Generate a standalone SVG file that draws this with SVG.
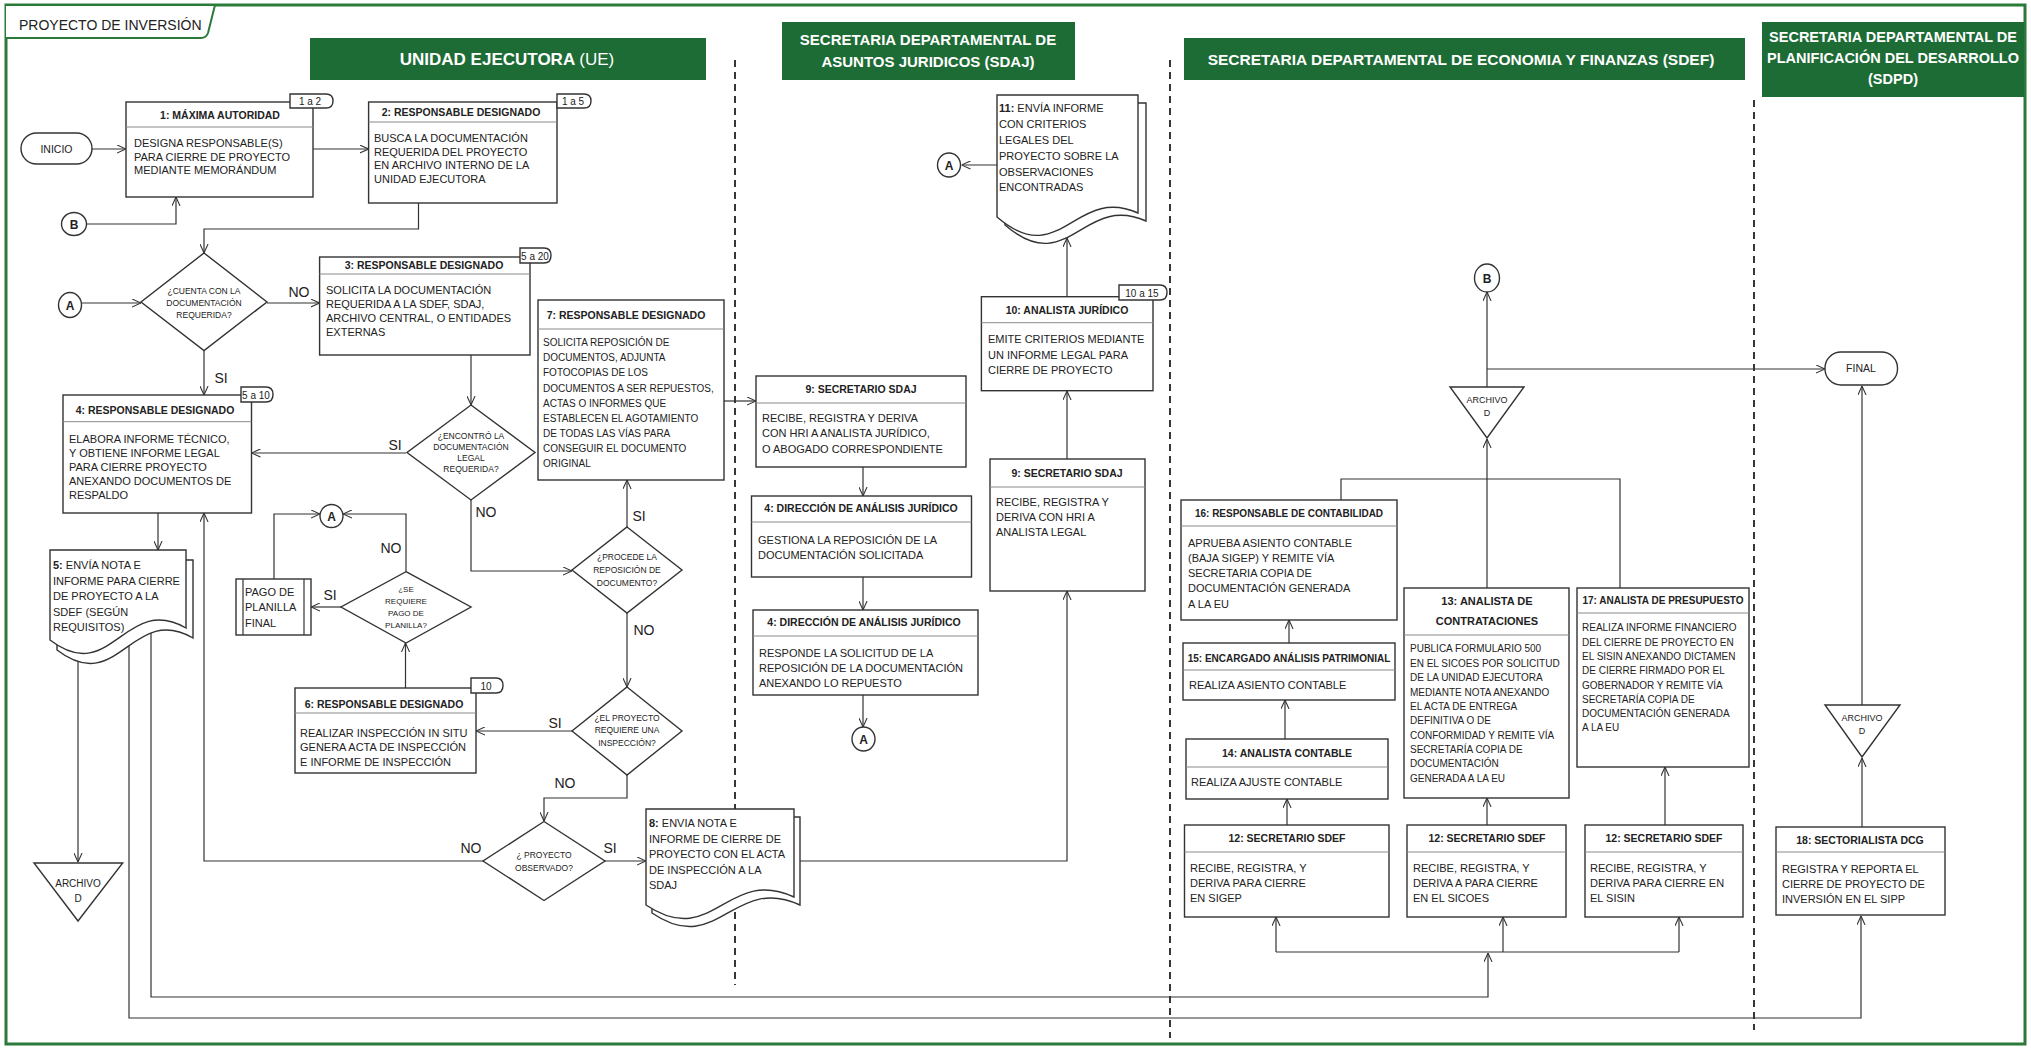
<svg xmlns="http://www.w3.org/2000/svg" width="2031" height="1048" viewBox="0 0 2031 1048">
<defs>
<marker id="arr" viewBox="0 0 10 10" refX="10" refY="5" markerWidth="9" markerHeight="9" orient="auto" markerUnits="userSpaceOnUse">
<path d="M0,0.5 L10,5 L0,9.5" fill="none" stroke="#333" stroke-width="1.2"/>
</marker>
<style>
.box{fill:#fff;stroke:#333;stroke-width:1.4}
.dv{stroke:#8a8a8a;stroke-width:1}
text{font-family:"Liberation Sans",Arial,sans-serif;fill:#222}
.t{font-size:11px}
.t10{font-size:10px}
.tt{font-size:10.5px;font-weight:bold;text-anchor:middle}
.tt10{font-size:10px;font-weight:bold;text-anchor:middle}
.ds{font-size:8.5px;text-anchor:middle}
.ds8{font-size:8px;text-anchor:middle}
.lbl{font-size:14px;text-anchor:middle}
.tag{font-size:10px;text-anchor:middle}
.arc{font-size:9px;text-anchor:middle}
.term{font-size:10.5px;text-anchor:middle}
.conn{fill:none;stroke:#333;stroke-width:1.2;marker-end:url(#arr)}
.ln{fill:none;stroke:#333;stroke-width:1.2}
.hdr{fill:#1d6b35}
.ht{fill:#fff;font-weight:bold;text-anchor:middle}
.dash{stroke:#222;stroke-width:1.8;stroke-dasharray:7 5}
.cc{font-size:12px;font-weight:bold;text-anchor:middle}
</style>
</defs>
<rect x="0" y="0" width="2031" height="1048" fill="#fff"/>
<rect x="6" y="5" width="2019" height="1039" fill="none" stroke="#2b7a3a" stroke-width="3"/>
<g id="tab">
<path d="M6,5 H215 L208,33 Q206,38 201,38 H6" fill="#fff" stroke="#2b7a3a" stroke-width="2"/>
<text x="19" y="30" style="font-size:14px">PROYECTO DE INVERSIÓN</text>
</g>
<g id="lanes">
<rect class="hdr" x="310" y="38" width="396" height="42"/>
<text class="ht" x="507" y="65" style="font-size:17px">UNIDAD EJECUTORA <tspan font-weight="normal">(UE)</tspan></text>
<rect class="hdr" x="782" y="22" width="293" height="58"/>
<text class="ht" x="928" y="45" style="font-size:15px">SECRETARIA DEPARTAMENTAL DE</text>
<text class="ht" x="928" y="67" style="font-size:15px">ASUNTOS JURIDICOS (SDAJ)</text>
<rect class="hdr" x="1184" y="38" width="561" height="42"/>
<text class="ht" x="1461" y="65" style="font-size:15.5px">SECRETARIA DEPARTAMENTAL DE ECONOMIA Y FINANZAS (SDEF)</text>
<rect class="hdr" x="1762" y="22" width="262" height="75"/>
<text class="ht" x="1893" y="42" style="font-size:14.5px">SECRETARIA DEPARTAMENTAL DE</text>
<text class="ht" x="1893" y="63" style="font-size:14.5px">PLANIFICACIÓN DEL DESARROLLO</text>
<text class="ht" x="1893" y="84" style="font-size:14.5px">(SDPD)</text>
<line class="dash" x1="735" y1="60" x2="735" y2="985"/>
<line class="dash" x1="1170" y1="60" x2="1170" y2="1038"/>
<line class="dash" x1="1754" y1="100" x2="1754" y2="1030"/>
</g>
<g id="connectors">
<path class="conn" d="M92,149 H126"/>
<path class="conn" d="M313,149 H368.6"/>
<path class="conn" d="M87,224 H176 V197"/>
<path class="conn" d="M418.5,203 V229 H204 V253"/>
<path class="conn" d="M82,303 H141"/>
<path class="conn" d="M267,303 H319.6"/>
<path class="conn" d="M204,350.5 V395"/>
<path class="conn" d="M471,355 V405"/>
<path class="conn" d="M406,453 H251.5"/>
<path class="conn" d="M471,500 V571 H572"/>
<path class="conn" d="M627,527 V480"/>
<path class="conn" d="M627,613 V687"/>
<path class="conn" d="M572,731 H476"/>
<path class="conn" d="M405.5,688 V643"/>
<path class="conn" d="M342,607 H311"/>
<path class="conn" d="M274,579 V514 H320"/>
<path class="conn" d="M406,571.7 V514 H343"/>
<path class="conn" d="M158,513 V550"/>
<path class="conn" d="M78,656 V862"/>
<path class="conn" d="M129,643 V1018 H1861 V916"/>
<path class="conn" d="M151,632 V997 H1488 V953"/>
<path class="conn" d="M627,775 V798 H544 V821"/>
<path class="conn" d="M483,861 H204 V513"/>
<path class="conn" d="M605,861 H646"/>
<path class="conn" d="M724,401 H756"/>
<path class="conn" d="M863,467 V496"/>
<path class="conn" d="M863,577 V610"/>
<path class="conn" d="M863,695 V727"/>
<path class="conn" d="M800,861 H1067 V591"/>
<path class="conn" d="M1067,459 V391"/>
<path class="conn" d="M1067,297 V238"/>
<path class="conn" d="M997,165 H961.5"/>
<path class="ln" d="M1276,952 H1679"/>
<path class="conn" d="M1276,952 V917"/>
<path class="conn" d="M1503,952 V917"/>
<path class="conn" d="M1679,952 V917"/>
<path class="conn" d="M1287,825 V799"/>
<path class="conn" d="M1285,739 V700"/>
<path class="conn" d="M1289,643 V620"/>
<path class="conn" d="M1487,825 V798"/>
<path class="conn" d="M1665,825 V767"/>
<path class="ln" d="M1341,500 V479 H1620 V588"/>
<path class="conn" d="M1487,588 V439"/>
<path class="conn" d="M1487,387 V292"/>
<path class="conn" d="M1487,369 H1825"/>
<path class="conn" d="M1862,827 V758"/>
<path class="conn" d="M1862,705 V386"/>
</g>
<g id="labels">
<text class="lbl" x="299" y="297">NO</text>
<text class="lbl" x="221" y="383">SI</text>
<text class="lbl" x="395" y="450">SI</text>
<text class="lbl" x="486" y="517">NO</text>
<text class="lbl" x="639" y="521">SI</text>
<text class="lbl" x="644" y="635">NO</text>
<text class="lbl" x="555" y="728">SI</text>
<text class="lbl" x="565" y="788">NO</text>
<text class="lbl" x="391" y="553">NO</text>
<text class="lbl" x="330" y="600">SI</text>
<text class="lbl" x="471" y="853">NO</text>
<text class="lbl" x="610" y="853">SI</text>
</g>
<g id="inicio">
<rect class="box" x="21" y="133" width="71" height="31" rx="15.5"/>
<text class="term" x="56.5" y="152.5">INICIO</text>
</g>
<g id="n1">
<rect class="box" x="126" y="102" width="187" height="95"/>
<line class="dv" x1="126" y1="127" x2="313" y2="127"/>
<text class="tt" x="220" y="119">1: MÁXIMA AUTORIDAD</text>
<text class="t" x="134" y="147">DESIGNA RESPONSABLE(S)</text>
<text class="t" x="134" y="160.5">PARA CIERRE DE PROYECTO</text>
<text class="t" x="134" y="174">MEDIANTE MEMORÁNDUM</text>
<path class="box" d="M290,94 H326 Q333,94 333,101 Q333,108 326,108 H290 Z"/>
<text class="tag" x="310" y="105">1 a 2</text>
</g>
<g id="n2">
<rect class="box" x="368.6" y="102" width="188.4" height="101"/>
<line class="dv" x1="368.6" y1="122" x2="557" y2="122"/>
<text class="tt" x="461" y="116">2: RESPONSABLE DESIGNADO</text>
<text class="t" x="374" y="142">BUSCA LA DOCUMENTACIÓN</text>
<text class="t" x="374" y="155.5">REQUERIDA DEL PROYECTO</text>
<text class="t" x="374" y="169">EN ARCHIVO INTERNO DE LA</text>
<text class="t" x="374" y="182.5">UNIDAD EJECUTORA</text>
<path class="box" d="M557,94 H584 Q591,94 591,101 Q591,108 584,108 H557 Z"/>
<text class="tag" x="573" y="105">1 a 5</text>
</g>
<g id="connB1">
<ellipse class="box" cx="74" cy="224" rx="12.5" ry="11.5"/>
<text class="cc" x="74" y="228.5">B</text>
</g>
<g id="connA1">
<ellipse class="box" cx="70" cy="305" rx="11.5" ry="12.5"/>
<text class="cc" x="70" y="309.5">A</text>
</g>
<g id="d1">
<path class="box" d="M204,253 L267,302 L204,350.5 L141,302 Z"/>
<text class="ds" x="204" y="294">¿CUENTA CON LA</text>
<text class="ds" x="204" y="306">DOCUMENTACIÓN</text>
<text class="ds" x="204" y="318">REQUERIDA?</text>
</g>
<g id="n3">
<rect class="box" x="319.6" y="257" width="210.4" height="98"/>
<line class="dv" x1="319.6" y1="274" x2="530" y2="274"/>
<text class="tt" x="424" y="269">3: RESPONSABLE DESIGNADO</text>
<text class="t" x="326" y="294">SOLICITA LA DOCUMENTACIÓN</text>
<text class="t" x="326" y="308">REQUERIDA A LA SDEF, SDAJ,</text>
<text class="t" x="326" y="322">ARCHIVO CENTRAL, O ENTIDADES</text>
<text class="t" x="326" y="336">EXTERNAS</text>
<path class="box" d="M520,248 H544 Q551,248 551,255.5 Q551,263 544,263 H520 Z"/>
<text class="tag" x="535" y="259.5">5 a 20</text>
</g>
<g id="n4">
<rect class="box" x="63" y="395" width="188.5" height="118"/>
<line class="dv" x1="63" y1="421.7" x2="251.5" y2="421.7"/>
<text class="tt" x="155" y="414">4: RESPONSABLE DESIGNADO</text>
<text class="t" x="69" y="443">ELABORA INFORME TÉCNICO,</text>
<text class="t" x="69" y="457">Y OBTIENE INFORME LEGAL</text>
<text class="t" x="69" y="471">PARA CIERRE PROYECTO</text>
<text class="t" x="69" y="485">ANEXANDO DOCUMENTOS DE</text>
<text class="t" x="69" y="499">RESPALDO</text>
<path class="box" d="M241,387 H266 Q273,387 273,394.5 Q273,402 266,402 H241 Z"/>
<text class="tag" x="256" y="398.5">5 a 10</text>
</g>
<g id="d2">
<path class="box" d="M471,405 L535,452.5 L471,500 L407,452.5 Z"/>
<text class="ds" x="471" y="439">¿ENCONTRÓ LA</text>
<text class="ds" x="471" y="450">DOCUMENTACIÓN</text>
<text class="ds" x="471" y="461">LEGAL</text>
<text class="ds" x="471" y="472">REQUERIDA?</text>
</g>
<g id="n7">
<rect class="box" x="538" y="300" width="186" height="180"/>
<line class="dv" x1="538" y1="329" x2="724" y2="329"/>
<text class="tt" x="626" y="319">7: RESPONSABLE DESIGNADO</text>
<text class="t10" x="543" y="346">SOLICITA REPOSICIÓN DE</text>
<text class="t10" x="543" y="361">DOCUMENTOS, ADJUNTA</text>
<text class="t10" x="543" y="376">FOTOCOPIAS DE LOS</text>
<text class="t10" x="543" y="391.5">DOCUMENTOS A SER REPUESTOS,</text>
<text class="t10" x="543" y="406.5">ACTAS O INFORMES QUE</text>
<text class="t10" x="543" y="421.5">ESTABLECEN EL AGOTAMIENTO</text>
<text class="t10" x="543" y="436.5">DE TODAS LAS VÍAS PARA</text>
<text class="t10" x="543" y="451.5">CONSEGUIR EL DOCUMENTO</text>
<text class="t10" x="543" y="466.5">ORIGINAL</text>
</g>
<g id="d3">
<path class="box" d="M627,527 L682,570 L627,613 L572,570 Z"/>
<text class="ds" x="627" y="560">¿PROCEDE LA</text>
<text class="ds" x="627" y="573">REPOSICIÓN DE</text>
<text class="ds" x="627" y="586">DOCUMENTO?</text>
</g>
<g id="connA2">
<ellipse class="box" cx="331.5" cy="516" rx="11.5" ry="11.5"/>
<text class="cc" x="331.5" y="520.5">A</text>
</g>
<g id="d4">
<path class="box" d="M406,571.7 L471,607 L406,643 L341,607 Z"/>
<text class="ds8" x="406" y="592">¿SE</text>
<text class="ds8" x="406" y="604">REQUIERE</text>
<text class="ds8" x="406" y="616">PAGO DE</text>
<text class="ds8" x="406" y="628">PLANILLA?</text>
</g>
<g id="pago">
<rect class="box" x="236" y="579" width="75" height="56"/>
<line class="ln" x1="243" y1="579" x2="243" y2="635"/>
<line class="ln" x1="304" y1="579" x2="304" y2="635"/>
<text class="t" x="245" y="596">PAGO DE</text>
<text class="t" x="245" y="611">PLANILLA</text>
<text class="t" x="245" y="627">FINAL</text>
</g>
<g id="n5">
<path class="box" d="M57,560 H193 V638 C132,603 118,697 57,650 Z"/>
<path class="box" d="M50,550 H186 V628 C125,593 111,687 50,640 Z"/>
<text class="t" x="53" y="569"><tspan font-weight="bold">5:</tspan> ENVÍA NOTA E</text>
<text class="t" x="53" y="584.5">INFORME PARA CIERRE</text>
<text class="t" x="53" y="600">DE PROYECTO A LA</text>
<text class="t" x="53" y="615.5">SDEF (SEGÚN</text>
<text class="t" x="53" y="631">REQUISITOS)</text>
</g>
<g id="n6">
<rect class="box" x="295" y="688" width="181" height="85"/>
<line class="dv" x1="295" y1="713" x2="476" y2="713"/>
<text class="tt" x="384" y="708">6: RESPONSABLE DESIGNADO</text>
<text class="t" x="300" y="737">REALIZAR INSPECCIÓN IN SITU</text>
<text class="t" x="300" y="751">GENERA ACTA DE INSPECCIÓN</text>
<text class="t" x="300" y="766">E INFORME DE INSPECCIÓN</text>
<path class="box" d="M471,678 H496 Q503,678 503,685.5 Q503,693 496,693 H471 Z"/>
<text class="tag" x="486" y="689.5">10</text>
</g>
<g id="d6">
<path class="box" d="M627,687 L682,731 L627,775 L572,731 Z"/>
<text class="ds" x="627" y="721">¿EL  PROYECTO</text>
<text class="ds" x="627" y="733">REQUIERE UNA</text>
<text class="ds" x="627" y="746">INSPECCIÓN?</text>
</g>
<g id="archivo1">
<path class="box" d="M34,863 H122.7 L78,921 Z"/>
<text class="arc" x="78" y="887" style="font-size:10px">ARCHIVO</text>
<text class="arc" x="78" y="902" style="font-size:10px">D</text>
</g>
<g id="d5">
<path class="box" d="M544,821.5 L605,861 L544,900.5 L483,861 Z"/>
<text class="ds" x="544" y="858">¿ PROYECTO</text>
<text class="ds" x="544" y="871">OBSERVADO?</text>
</g>
<g id="n8">
<path class="box" d="M652,817 H800 V905 C733,874 718,958 652,913 Z"/>
<path class="box" d="M646,809 H794 V897 C727,866 713,950 646,905 Z"/>
<text class="t" x="649" y="827"><tspan font-weight="bold">8:</tspan> ENVIA NOTA E</text>
<text class="t" x="649" y="843">INFORME DE CIERRE DE</text>
<text class="t" x="649" y="858">PROYECTO CON EL ACTA</text>
<text class="t" x="649" y="874">DE INSPECCIÓN A LA</text>
<text class="t" x="649" y="889">SDAJ</text>
</g>
<g id="n9a">
<rect class="box" x="756" y="376" width="210" height="91"/>
<line class="dv" x1="756" y1="403" x2="966" y2="403"/>
<text class="tt" x="861" y="393">9: SECRETARIO SDAJ</text>
<text class="t" x="762" y="422">RECIBE, REGISTRA Y DERIVA</text>
<text class="t" x="762" y="437">CON HRI A ANALISTA JURÍDICO,</text>
<text class="t" x="762" y="453">O ABOGADO CORRESPONDIENTE</text>
</g>
<g id="dir1">
<rect class="box" x="751.5" y="496" width="220" height="81"/>
<line class="dv" x1="751.5" y1="522" x2="971.5" y2="522"/>
<text class="tt" x="861" y="512">4: DIRECCIÓN DE ANÁLISIS JURÍDICO</text>
<text class="t" x="758" y="544">GESTIONA LA REPOSICIÓN DE LA</text>
<text class="t" x="758" y="559">DOCUMENTACIÓN SOLICITADA</text>
</g>
<g id="dir2">
<rect class="box" x="753" y="610" width="225" height="85"/>
<line class="dv" x1="753" y1="636" x2="978" y2="636"/>
<text class="tt" x="864" y="626">4: DIRECCIÓN DE ANÁLISIS JURÍDICO</text>
<text class="t" x="759" y="657">RESPONDE LA SOLICITUD DE LA</text>
<text class="t" x="759" y="672">REPOSICIÓN DE LA DOCUMENTACIÓN</text>
<text class="t" x="759" y="687">ANEXANDO LO REPUESTO</text>
</g>
<g id="connA3">
<ellipse class="box" cx="863.5" cy="739" rx="11.5" ry="12"/>
<text class="cc" x="863.5" y="743.5">A</text>
</g>
<g id="n11">
<path class="box" d="M1005,103 H1146 V221 C1082.5,193 1068.5,279.5 1005,225 Z"/>
<path class="box" d="M997,95 H1138 V213 C1074.5,185 1060.5,271.5 997,217 Z"/>
<text class="t" x="999" y="112"><tspan font-weight="bold">11:</tspan> ENVÍA INFORME</text>
<text class="t" x="999" y="128">CON CRITERIOS</text>
<text class="t" x="999" y="144">LEGALES DEL</text>
<text class="t" x="999" y="160">PROYECTO SOBRE LA</text>
<text class="t" x="999" y="176">OBSERVACIONES</text>
<text class="t" x="999" y="191">ENCONTRADAS</text>
</g>
<g id="connA4">
<ellipse class="box" cx="949" cy="165" rx="11.5" ry="12"/>
<text class="cc" x="949" y="169.5">A</text>
</g>
<g id="n10">
<rect class="box" x="981.4" y="296.7" width="171.6" height="94"/>
<line class="dv" x1="981.4" y1="322.7" x2="1153" y2="322.7"/>
<text class="tt" x="1067" y="314">10: ANALISTA JURÍDICO</text>
<text class="t" x="988" y="343">EMITE CRITERIOS MEDIANTE</text>
<text class="t" x="988" y="359">UN INFORME LEGAL PARA</text>
<text class="t" x="988" y="374">CIERRE DE PROYECTO</text>
<path class="box" d="M1119,285 H1160 Q1167,285 1167,292.5 Q1167,300 1160,300 H1119 Z"/>
<text class="tag" x="1142" y="296.5">10 a 15</text>
</g>
<g id="n9b">
<rect class="box" x="990" y="459" width="155" height="132"/>
<line class="dv" x1="990" y1="487" x2="1145" y2="487"/>
<text class="tt" x="1067" y="477">9: SECRETARIO SDAJ</text>
<text class="t" x="996" y="506">RECIBE, REGISTRA Y</text>
<text class="t" x="996" y="521">DERIVA CON HRI A</text>
<text class="t" x="996" y="536">ANALISTA LEGAL</text>
</g>
<g id="connB2">
<ellipse class="box" cx="1487" cy="278" rx="12.5" ry="14"/>
<text class="cc" x="1487" y="282.5">B</text>
</g>
<g id="archivo2">
<path class="box" d="M1450,387 H1524 L1487,438 Z"/>
<text class="arc" x="1487" y="403">ARCHIVO</text>
<text class="arc" x="1487" y="416">D</text>
</g>
<g id="final">
<rect class="box" x="1825" y="352" width="72.5" height="33" rx="16"/>
<text class="term" x="1861" y="372">FINAL</text>
</g>
<g id="n16">
<rect class="box" x="1181" y="500" width="216" height="120"/>
<line class="dv" x1="1181" y1="526" x2="1397" y2="526"/>
<text class="tt10" x="1289" y="517">16: RESPONSABLE DE CONTABILIDAD</text>
<text class="t" x="1188" y="547">APRUEBA ASIENTO CONTABLE</text>
<text class="t" x="1188" y="562">(BAJA SIGEP) Y REMITE VÍA</text>
<text class="t" x="1188" y="577">SECRETARIA COPIA DE</text>
<text class="t" x="1188" y="592">DOCUMENTACIÓN GENERADA</text>
<text class="t" x="1188" y="608">A LA EU</text>
</g>
<g id="n15">
<rect class="box" x="1183" y="643" width="212" height="57"/>
<line class="dv" x1="1183" y1="670" x2="1395" y2="670"/>
<text class="tt10" x="1289" y="662">15: ENCARGADO ANÁLISIS PATRIMONIAL</text>
<text class="t" x="1189" y="689">REALIZA ASIENTO CONTABLE</text>
</g>
<g id="n14">
<rect class="box" x="1186" y="739" width="202" height="60"/>
<line class="dv" x1="1186" y1="767" x2="1388" y2="767"/>
<text class="tt" x="1287" y="757">14: ANALISTA CONTABLE</text>
<text class="t" x="1191" y="786">REALIZA AJUSTE CONTABLE</text>
</g>
<g id="n12a">
<rect class="box" x="1184.5" y="825" width="204.5" height="92"/>
<line class="dv" x1="1184.5" y1="852" x2="1389" y2="852"/>
<text class="tt" x="1287" y="842">12: SECRETARIO SDEF</text>
<text class="t" x="1190" y="872">RECIBE, REGISTRA, Y</text>
<text class="t" x="1190" y="887">DERIVA  PARA CIERRE</text>
<text class="t" x="1190" y="902">EN SIGEP</text>
</g>
<g id="n13">
<rect class="box" x="1404" y="588" width="165" height="210"/>
<line class="dv" x1="1404" y1="635" x2="1569" y2="635"/>
<text class="tt" x="1487" y="605" style="font-size:11px">13:  ANALISTA DE</text>
<text class="tt" x="1487" y="625" style="font-size:11px">CONTRATACIONES</text>
<text class="t10" x="1410" y="652">PUBLICA FORMULARIO 500</text>
<text class="t10" x="1410" y="666.5">EN EL SICOES POR SOLICITUD</text>
<text class="t10" x="1410" y="681">DE LA UNIDAD EJECUTORA</text>
<text class="t10" x="1410" y="695.5">MEDIANTE NOTA ANEXANDO</text>
<text class="t10" x="1410" y="710">EL ACTA DE ENTREGA</text>
<text class="t10" x="1410" y="724">DEFINITIVA O DE</text>
<text class="t10" x="1410" y="738.5">CONFORMIDAD Y REMITE VÍA</text>
<text class="t10" x="1410" y="752.5">SECRETARÍA COPIA DE</text>
<text class="t10" x="1410" y="767">DOCUMENTACIÓN</text>
<text class="t10" x="1410" y="781.5">GENERADA A LA EU</text>
</g>
<g id="n17">
<rect class="box" x="1577" y="588" width="172" height="179"/>
<line class="dv" x1="1577" y1="613" x2="1749" y2="613"/>
<text class="tt10" x="1663" y="604">17: ANALISTA  DE PRESUPUESTO</text>
<text class="t10" x="1582" y="631">REALIZA INFORME FINANCIERO</text>
<text class="t10" x="1582" y="645.5">DEL CIERRE DE PROYECTO EN</text>
<text class="t10" x="1582" y="660">EL SISIN  ANEXANDO DICTAMEN</text>
<text class="t10" x="1582" y="674">DE CIERRE FIRMADO POR EL</text>
<text class="t10" x="1582" y="688.5">GOBERNADOR  Y REMITE VÍA</text>
<text class="t10" x="1582" y="702.5">SECRETARÍA COPIA DE</text>
<text class="t10" x="1582" y="716.5">DOCUMENTACIÓN GENERADA</text>
<text class="t10" x="1582" y="730.5">A LA EU</text>
</g>
<g id="n12b">
<rect class="box" x="1407" y="825" width="159" height="92"/>
<line class="dv" x1="1407" y1="852" x2="1566" y2="852"/>
<text class="tt" x="1487" y="842">12: SECRETARIO SDEF</text>
<text class="t" x="1413" y="872">RECIBE, REGISTRA, Y</text>
<text class="t" x="1413" y="887">DERIVA A PARA CIERRE</text>
<text class="t" x="1413" y="902">EN EL SICOES</text>
</g>
<g id="n12c">
<rect class="box" x="1585" y="825" width="158" height="92"/>
<line class="dv" x1="1585" y1="852" x2="1743" y2="852"/>
<text class="tt" x="1664" y="842">12: SECRETARIO SDEF</text>
<text class="t" x="1590" y="872">RECIBE, REGISTRA, Y</text>
<text class="t" x="1590" y="887">DERIVA PARA CIERRE EN</text>
<text class="t" x="1590" y="902">EL SISIN</text>
</g>
<g id="archivo3">
<path class="box" d="M1825,705 H1900 L1862,757 Z"/>
<text class="arc" x="1862" y="721">ARCHIVO</text>
<text class="arc" x="1862" y="734">D</text>
</g>
<g id="n18">
<rect class="box" x="1776" y="827" width="169" height="88"/>
<line class="dv" x1="1776" y1="852" x2="1945" y2="852"/>
<text class="tt" x="1860" y="844">18: SECTORIALISTA DCG</text>
<text class="t" x="1782" y="873">REGISTRA Y REPORTA EL</text>
<text class="t" x="1782" y="888">CIERRE DE PROYECTO DE</text>
<text class="t" x="1782" y="903">INVERSIÓN EN EL SIPP</text>
</g>
</svg>
